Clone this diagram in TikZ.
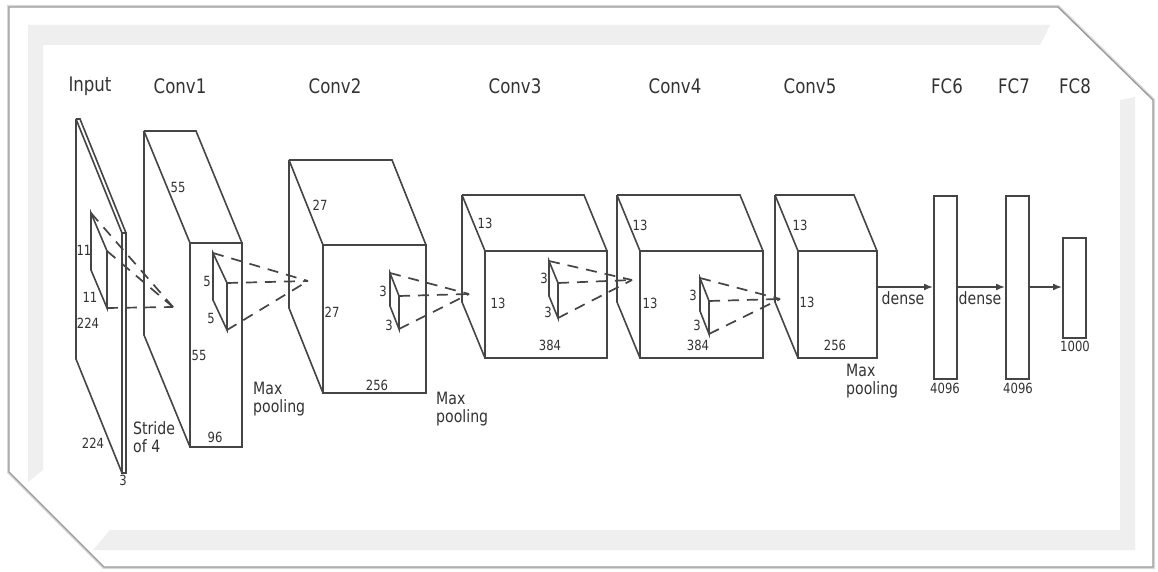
\documentclass[tikz,border=0pt]{standalone}
\usepackage{fontspec}
\setmainfont{DejaVu Sans}[FakeStretch=0.83]
\usetikzlibrary{calc,arrows.meta}
\definecolor{txt}{HTML}{333333}
\definecolor{ln}{HTML}{454545}
\definecolor{band}{HTML}{EFEFEF}
\tikzset{
  boxline/.style={draw=ln, line width=1.6pt, line join=miter},
  kline/.style={draw=ln, line width=1.6pt},
  dline/.style={draw=ln, line width=1.7pt, dash pattern=on 11pt off 8pt},
  title/.style={font=\fontsize{20}{22}\selectfont, text=txt, inner sep=0pt},
  lbl/.style={font=\fontsize{17}{20}\selectfont, text=txt, inner sep=0pt, align=left},
  num/.style={font=\fontsize{14}{16}\selectfont, text=txt, inner sep=0pt},
  fcbox/.style={draw=ln, line width=1.6pt, minimum width=23pt, inner sep=0pt, anchor=north west},
  arr/.style={draw=ln, line width=1.6pt, -{Latex[length=9pt,width=7pt]}}
}
% box: name, x, y, w, h, dx, dy
\newcommand{\aBox}[7]{%
  \coordinate (#1-b) at (#2,#3);
  \coordinate (#1-f) at ($(#1-b)+(#6,#7)$);
  \draw[boxline] (#1-f) rectangle ($(#1-f)+(#4,#5)$);
  \draw[boxline] (#1-b) -- ($(#1-b)+(#4,0)$) -- ($(#1-f)+(#4,0)$);
  \draw[boxline] (#1-b) -- (#1-f);
  \draw[boxline] (#1-b) -- ($(#1-b)+(0,#5)$) -- ($(#1-f)+(0,#5)$);
}
% kernel: name, Tx, Ty, FTx, FTy, h, apex coordinate name
\newcommand{\aKernel}[7]{%
  \coordinate (#1-t) at (#2,#3);
  \coordinate (#1-ft) at (#4,#5);
  \coordinate (#1-fb) at ($(#1-ft)+(0,#6)$);
  \coordinate (#1-bl) at ($(#1-t)+(0,#6)$);
  \draw[kline] (#1-t) -- (#1-ft) -- (#1-fb) -- (#1-bl) -- cycle;
  \draw[dline] (#1-t) -- (#7);
  \draw[dline] (#1-ft) -- (#7);
  \draw[dline] (#1-fb) -- (#7);
}
\begin{document}
\begin{tikzpicture}[x=1pt,y=-1pt]
\useasboundingbox (0,0) rectangle (1158,572);
% frame
\coordinate (o1) at (9,7);
\coordinate (o2) at (1058,7);
\coordinate (o3) at (1153,100);
\coordinate (o4) at (1153,567);
\coordinate (o5) at (104,567);
\coordinate (o6) at (9,472);
\draw[gray!30, line width=4pt, shift={(1.5,1.5)}] (o1) -- (o2) -- (o3) -- (o4) -- (o5) -- (o6) -- cycle;
\draw[fill=white, draw=gray!80, line width=1.3pt] (o1) -- (o2) -- (o3) -- (o4) -- (o5) -- (o6) -- cycle;
\fill[band] (28,25) -- (1050,25) -- (1040,45) -- (43,45) -- (43,470) -- (28,482) -- cycle;
\fill[band] (1120,100) -- (1135,97) -- (1135,550) -- (93,550) -- (110,530) -- (1120,530) -- cycle;

% titles
\node[title] (tIn) at (90,86) {Input};
\node[title] (tC1) at (180,86) {Conv1};
\node[title] (tC2) at (335,86) {Conv2};
\node[title] (tC3) at (515,86) {Conv3};
\node[title] (tC4) at (675,86) {Conv4};
\node[title] (tC5) at (810,86) {Conv5};
\node[title] (tF6) at (947,86) {FC6};
\node[title] (tF7) at (1014,86) {FC7};
\node[title] (tF8) at (1075,86) {FC8};

% boxes
\aBox{inp}{76}{119}{4}{240}{46}{114}
\aBox{c1}{144}{131}{52}{204}{46}{112}
\aBox{c2}{289}{160}{103}{148}{34}{85}
\aBox{c3}{462}{195}{122}{107}{23}{56}
\aBox{c4}{617}{195}{123}{107}{23}{56}
\aBox{c5}{775}{195}{79}{107}{23}{56}

% apex points
\coordinate (a1) at (173,307);
\coordinate (a2) at (308,281);
\coordinate (a3) at (469,294);
\coordinate (a4) at (632,280);
\coordinate (a5) at (780,299);

% kernels
\aKernel{k0}{91}{213}{107}{251}{57}{a1}
\aKernel{k1}{213}{253}{227}{283}{47}{a2}
\aKernel{k2}{390}{273}{399}{296}{33}{a3}
\aKernel{k3}{549}{261}{558}{283}{35}{a4}
\aKernel{k4}{700}{278}{709}{301}{33}{a5}

% FC layers
\node[fcbox, minimum height=183pt] (fc6) at (933,195) {};
\node[fcbox, minimum height=183pt] (fc7) at (1005,195) {};
\node[fcbox, minimum height=100pt] (fc8) at (1062,237) {};
\coordinate (c5out) at (877,287);
\draw[arr] (c5out) -- (c5out -| fc6.west);
\draw[arr] (c5out -| fc6.east) -- (c5out -| fc7.west);
\draw[arr] (c5out -| fc7.east) -- (c5out -| fc8.west);

% labels: input
\node[num] (l1) at (84,250) {11};
\node[num] (l2) at (90,297) {11};
\node[num] (l3) at (88,323) {224};
\node[num] (l4) at (93,443) {224};
\node[num] (l5) at (123,480) {3};
% conv1
\node[num] (l6) at (178,187) {55};
\node[num] (l7) at (199,355) {55};
\node[num] (l8) at (215,437) {96};
\node[num] (l9) at (207,281) {5};
\node[num] (l10) at (211,318) {5};
\node[lbl, anchor=north west] (l11) at (133,421) {Stride\\[-2pt]of 4};
\node[lbl, anchor=north west] (l12) at (253,382) {Max\\[-2pt]pooling};
% conv2
\node[num] (l13) at (320,205) {27};
\node[num] (l14) at (332,312) {27};
\node[num] (l15) at (377,385) {256};
\node[num] (l16) at (383,291) {3};
\node[num] (l17) at (389,325) {3};
\node[lbl, anchor=north west] (l18) at (436,392) {Max\\[-2pt]pooling};
% conv3
\node[num] (l19) at (485,223) {13};
\node[num] (l20) at (498,303) {13};
\node[num] (l21) at (550,345) {384};
\node[num] (l22) at (544,278) {3};
\node[num] (l23) at (548,312) {3};
% conv4
\node[num] (l24) at (640,225) {13};
\node[num] (l25) at (650,303) {13};
\node[num] (l26) at (698,345) {384};
\node[num] (l27) at (693,295) {3};
\node[num] (l28) at (697,325) {3};
% conv5
\node[num] (l29) at (800,225) {13};
\node[num] (l30) at (807,302) {13};
\node[num] (l31) at (835,345) {256};
\node[lbl, anchor=north west] (l32) at (846,364) {Max\\[-2pt]pooling};
% dense
\node[lbl] (l33) at (903,298) {dense};
\node[lbl] (l34) at (980,298) {dense};
\node[num] (l35) at (945,388) {4096};
\node[num] (l36) at (1018,388) {4096};
\node[num] (l37) at (1075,346) {1000};
\end{tikzpicture}
\end{document}
